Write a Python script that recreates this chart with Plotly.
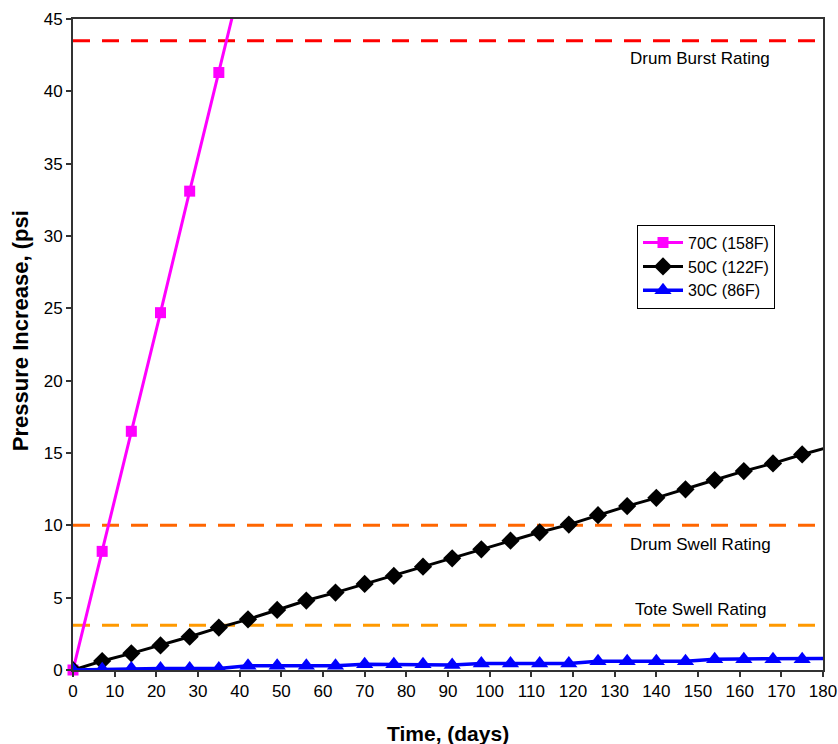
import plotly.graph_objects as go

# ---- data ----
days_70 = [0, 7, 14, 21, 28, 35, 42]
psi_70 = [0, 8.2, 16.5, 24.7, 33.1, 41.3, 49.6]

days_50 = [0, 7, 14, 21, 28, 35, 42, 49, 56, 63, 70, 77, 84, 91, 98, 105, 112,
           119, 126, 133, 140, 147, 154, 161, 168, 175, 182]
psi_50 = [0, 0.62, 1.15, 1.7, 2.3, 2.93, 3.5, 4.15, 4.8, 5.35, 5.95, 6.5, 7.14,
          7.72, 8.34, 8.94, 9.52, 10.05, 10.7, 11.33, 11.9, 12.49, 13.13, 13.75,
          14.28, 14.9, 15.45]

days_30 = days_50
psi_30 = [0, 0.05, 0.1, 0.1, 0.1, 0.1, 0.3, 0.3, 0.3, 0.3, 0.4, 0.4, 0.4, 0.35,
          0.45, 0.45, 0.45, 0.45, 0.6, 0.6, 0.6, 0.6, 0.75, 0.75, 0.75, 0.75, 0.8]

series_names = ["70C (158F)", "50C (122F)", "30C (86F)"]

rating_names = ["Drum Burst Rating", "Drum Swell Rating", "Tote Swell Rating"]
rating_values = [43.5, 10.0, 3.1]
rating_label_y = [42.25, 8.7, 4.2]
rating_colors = ["#FF0000", "#FF6600", "#FF9900"]

x_ticks = list(range(0, 181, 10))
y_ticks = list(range(0, 46, 5))

FONT = "Liberation Sans, Arial, sans-serif"

fig = go.Figure()

fig.add_trace(go.Scatter(
    x=days_70, y=psi_70, name=series_names[0], mode="lines+markers",
    line=dict(color="#FF00FF", width=3),
    marker=dict(symbol="square", size=11, color="#FF00FF"),
    cliponaxis=False))
fig.add_trace(go.Scatter(
    x=days_50, y=psi_50, name=series_names[1], mode="lines+markers",
    line=dict(color="#000000", width=3),
    marker=dict(symbol="diamond", size=14, color="#000000"),
    cliponaxis=True))
fig.add_trace(go.Scatter(
    x=days_30, y=psi_30, name=series_names[2], mode="lines+markers",
    line=dict(color="#0000FF", width=3.5),
    marker=dict(symbol="triangle-up", size=15, color="#0000FF"),
    cliponaxis=True))

for name, val, ly, col in zip(rating_names, rating_values, rating_label_y, rating_colors):
    fig.add_shape(type="line", xref="x", yref="y", x0=0, x1=180, y0=val, y1=val,
                  line=dict(color=col, width=3, dash="17px,12px"), layer="below")
    fig.add_annotation(x=150.5, y=ly, xref="x", yref="y", text=name,
                       showarrow=False, font=dict(size=17, color="#000000", family=FONT))

# axis titles
fig.add_annotation(x=0.5, y=-0.0968, xref="paper", yref="paper",
                   xanchor="center", yanchor="middle",
                   text="<b>Time, (days)</b>",
                   showarrow=False, font=dict(size=21, color="#000000", family=FONT))
fig.add_annotation(x=-0.0707, y=0.522, xref="paper", yref="paper",
                   xanchor="center", yanchor="middle",
                   text="<b>Pressure Increase, (psi</b>", textangle=-90,
                   showarrow=False, font=dict(size=22, color="#000000", family=FONT))

axis_common = dict(showline=True, linecolor="#333333", linewidth=2, mirror=True,
                   ticks="outside", ticklen=5, tickwidth=1.5, tickcolor="#333333",
                   showgrid=False, zeroline=False, automargin=False,
                   tickfont=dict(size=17, color="#000000", family=FONT))

fig.update_layout(
    width=838, height=744, autosize=False,
    margin=dict(l=73, r=15, t=19, b=74, autoexpand=False),
    paper_bgcolor="white", plot_bgcolor="white",
    font=dict(family=FONT, color="#000000"),
    xaxis=dict(range=[0, 180], tickvals=x_ticks, **axis_common),
    yaxis=dict(range=[0, 45], tickvals=y_ticks, **axis_common),
    legend=dict(x=0.752, y=0.684, xanchor="left", yanchor="top",
                bgcolor="white", bordercolor="#000000", borderwidth=1,
                font=dict(size=16, color="#000000", family=FONT),
                itemwidth=40, tracegroupgap=0),
    showlegend=True,
)

fig.write_html("out.html",
               config={"displayModeBar": False, "responsive": False},
               post_script="document.body.style.margin='0';document.body.style.overflow='hidden';")
